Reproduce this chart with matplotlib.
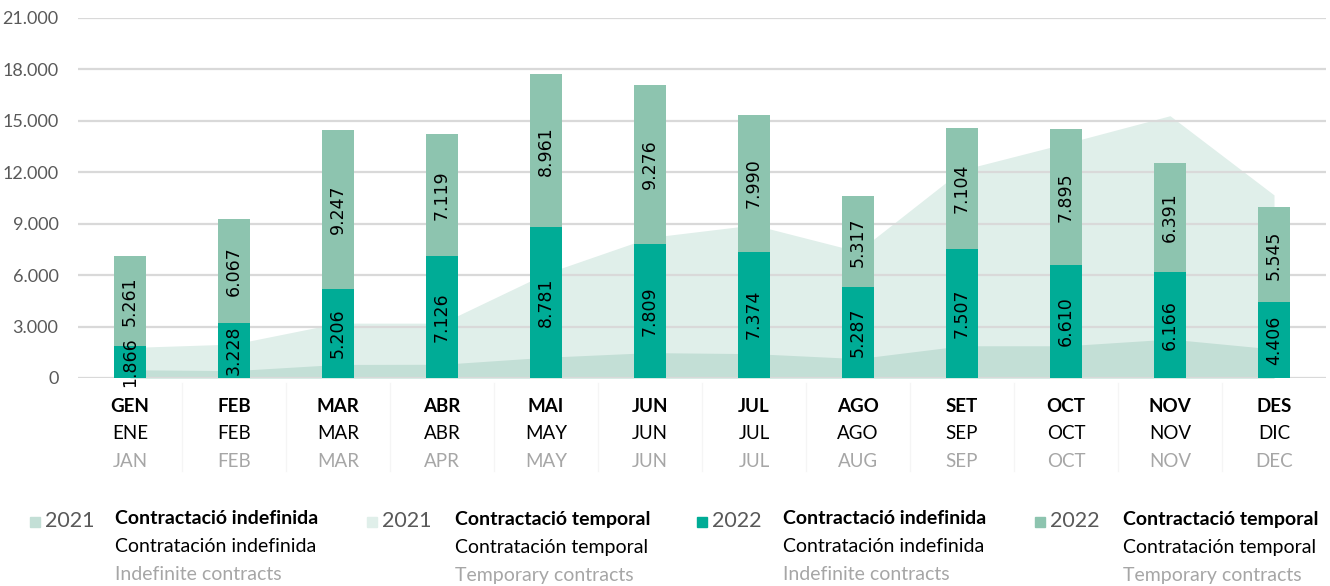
import numpy as np
import matplotlib.pyplot as plt

mes_cat = ["GEN", "FEB", "MAR", "ABR", "MAI", "JUN", "JUL", "AGO", "SET", "OCT", "NOV", "DES"]
mes_es = ["ENE", "FEB", "MAR", "ABR", "MAY", "JUN", "JUL", "AGO", "SEP", "OCT", "NOV", "DIC"]
mes_en = ["JAN", "FEB", "MAR", "APR", "MAY", "JUN", "JUL", "AUG", "SEP", "OCT", "NOV", "DEC"]

# 2022 (bars, stacked)
indef22 = [1866, 3228, 5206, 7126, 8781, 7809, 7374, 5287, 7507, 6610, 6166, 4406]
temp22 = [5261, 6067, 9247, 7119, 8961, 9276, 7990, 5317, 7104, 7895, 6391, 5545]

# 2021 (areas)
indef21 = [480, 430, 790, 800, 1210, 1480, 1420, 1130, 1880, 1880, 2270, 1690]
temp21 = [1780, 1980, 3200, 3200, 6100, 8200, 8930, 7380, 12140, 13690, 15300, 10680]

C_A21_IND = "#c3dfd6"
C_A21_TMP = "#e0efea"
C_B22_IND = "#00ac96"
C_B22_TMP = "#8dc4af"
GRID = "#d9d9d9"
GREY = "#595959"
LGREY = "#a6a6a6"
FONT = "Lato"

def fmt(v):
    return f"{v:,}".replace(",", ".")

fig = plt.figure(figsize=(13.3, 5.86), dpi=100)
ax = fig.add_axes([78 / 1330, (586 - 378) / 586, 1248 / 1330, 360 / 586])

x = np.arange(len(mes_cat))

ax.fill_between(x, 0, temp21, color=C_A21_TMP, lw=0, zorder=1)
ax.fill_between(x, 0, indef21, color=C_A21_IND, lw=0, zorder=1.1)

for yv in range(0, 21001, 3000):
    ax.axhline(yv, color=GRID, lw=1.6, zorder=1.5)

w = 0.31
ax.bar(x, indef22, w, color=C_B22_IND, zorder=2)
ax.bar(x, temp22, w, bottom=indef22, color=C_B22_TMP, zorder=2)

for i in range(len(x)):
    ax.text(x[i], indef22[i] / 2, fmt(indef22[i]), rotation=90, ha="center", va="center",
            fontsize=12.5, color="black", family="DejaVu Sans", zorder=3)
    ax.text(x[i], indef22[i] + temp22[i] / 2, fmt(temp22[i]), rotation=90, ha="center",
            va="center", fontsize=12.5, color="black", family="DejaVu Sans", zorder=3)

ax.set_xlim(-0.5, 11.5)
ax.set_ylim(0, 21000)
ax.set_yticks(range(0, 21001, 3000))
ax.set_yticklabels([fmt(v) for v in range(0, 21001, 3000)], family=FONT, fontsize=13, color=GREY)
ax.tick_params(axis="y", length=0, pad=14)
ax.set_xticks([])
for s in ax.spines.values():
    s.set_visible(False)

# month labels in three languages
for i in range(len(x)):
    ax.text(x[i], -1650, mes_cat[i], ha="center", va="center", fontsize=13.5,
            fontweight="bold", family=FONT, color="black")
    ax.text(x[i], -3250, mes_es[i], ha="center", va="center", fontsize=13.5,
            family=FONT, color="black")
    ax.text(x[i], -4850, mes_en[i], ha="center", va="center", fontsize=13.5,
            family=FONT, color=LGREY)
# faint separators between months
for i in range(len(x) - 1):
    ax.plot([i + 0.5, i + 0.5], [-300, -5400], color="#f5f5f5", lw=1, clip_on=False)

# legend
legend_items = [
    (C_A21_IND, "2021", "Contractació indefinida", "Contratación indefinida", "Indefinite contracts", 30, 115),
    (C_A21_TMP, "2021", "Contractació temporal", "Contratación temporal", "Temporary contracts", 367, 455),
    (C_B22_IND, "2022", "Contractació indefinida", "Contratación indefinida", "Indefinite contracts", 697, 783),
    (C_B22_TMP, "2022", "Contractació temporal", "Contratación temporal", "Temporary contracts", 1035, 1123),
]
for col, yr, l1, l2, l3, px, tx in legend_items:
    fx = px / 1330
    fig.patches.append(plt.Rectangle((fx, 1 - 527 / 586), 10 / 1330, 10 / 586,
                                     transform=fig.transFigure, color=col))
    fig.text(fx + 15 / 1330, 1 - 521 / 586, yr, fontsize=15.5, family=FONT, color=GREY,
             va="center", ha="left")
    fig.text(tx / 1330, 1 - 519 / 586, l1, fontsize=14, family=FONT, fontweight="bold",
             color="black", va="center", ha="left")
    fig.text(tx / 1330, 1 - 547 / 586, l2, fontsize=14, family=FONT, color="black",
             va="center", ha="left")
    fig.text(tx / 1330, 1 - 575 / 586, l3, fontsize=14, family=FONT, color=LGREY,
             va="center", ha="left")

fig.savefig("out.png", dpi=100)
